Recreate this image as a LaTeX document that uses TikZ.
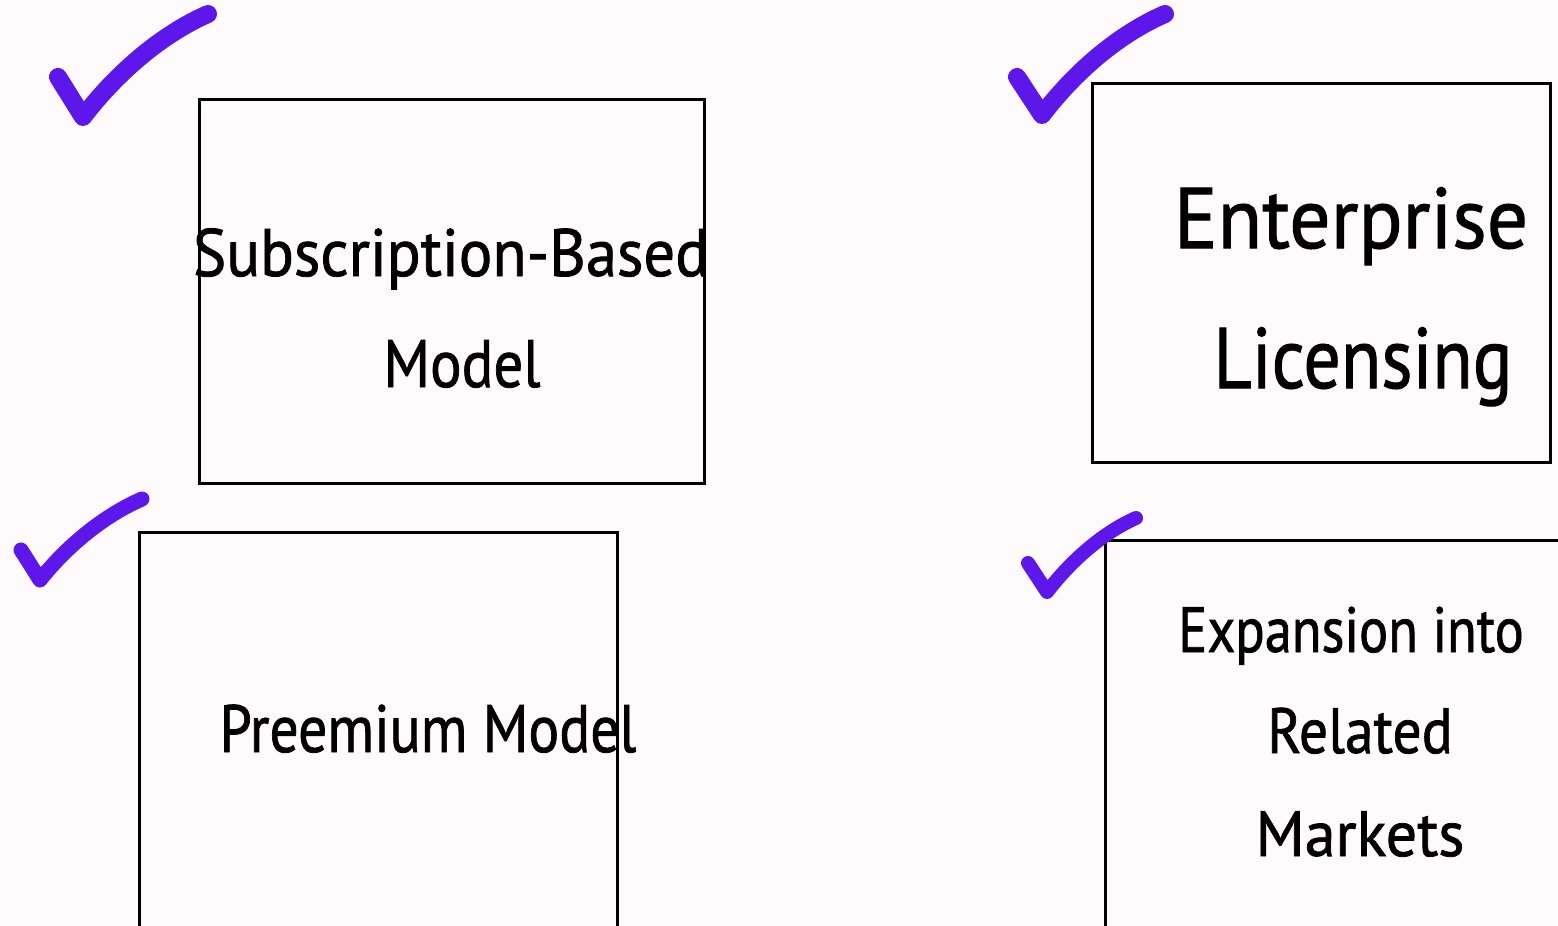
\documentclass[tikz,border=0pt]{standalone}
\usepackage{fontspec}
\newfontfamily\hand[FakeBold=1.2]{PT Sans}
\definecolor{bgpink}{HTML}{FFFAFB}
\definecolor{checkpurple}{HTML}{5E17EB}
\begin{document}
\begin{tikzpicture}[x=1pt,y=-1pt,
  box/.style={draw=black, line width=3pt, rectangle, inner sep=0pt, outer sep=0pt},
  check/.style={draw=checkpurple, line cap=round, line join=round, line width=#1},
  lbl/.style={anchor=base, inner sep=0pt, font=\hand\fontsize{#1}{#1}\selectfont}
]
\fill[bgpink] (0,0) rectangle (1558,926);
\useasboundingbox (0,0) rectangle (1558,926);
% boxes
\node[box, minimum width=505pt, minimum height=384pt] (b1) at (451.5,291) {};
\node[box, minimum width=458pt, minimum height=379pt] (b2) at (1321,272.5) {};
\node[box, minimum width=478pt, minimum height=600pt] (b3) at (378,832) {};
\node[box, minimum width=600pt, minimum height=600pt] (b4) at (1405,840) {};
% labels
\node[lbl=67] (t1a) at (451,276) {\scalebox{0.936}[1]{Subscription-Based}};
\node[lbl=67] (t1b) at (462,387) {\scalebox{0.88}[1]{Model}};
\node[lbl=86] (t2a) at (1351,248) {\scalebox{0.95}[1]{Enterprise}};
\node[lbl=86] (t2b) at (1363,388) {\scalebox{0.86}[1]{Licensing}};
\node[lbl=67] (t3) at (428,752) {\scalebox{0.86}[1]{Preemium Model}};
\node[lbl=64] (t4a) at (1351,652) {\scalebox{0.85}[1]{Expansion into}};
\node[lbl=64] (t4b) at (1360,753) {\scalebox{0.9}[1]{Related}};
\node[lbl=64] (t4c) at (1360,856) {\scalebox{0.97}[1]{Markets}};
% checkmarks
\coordinate (c1) at (83,117);
\draw[check=18pt] (58,77) -- (c1) .. controls +(32,-42) and +(-48,21) .. (208,14);
\coordinate (c2) at (1042,115);
\draw[check=18pt] (1017,77) -- (c2) .. controls +(32,-42) and +(-48,21) .. (1165,14);
\coordinate (c3) at (40,580);
\draw[check=15pt] (21,550) -- (c3) .. controls +(26,-33) and +(-39,17) .. (142,499);
\coordinate (c4) at (1047,592);
\draw[check=14pt] (1028,563) -- (c4) .. controls +(23,-30) and +(-34,15) .. (1136,518);
\end{tikzpicture}
\end{document}
